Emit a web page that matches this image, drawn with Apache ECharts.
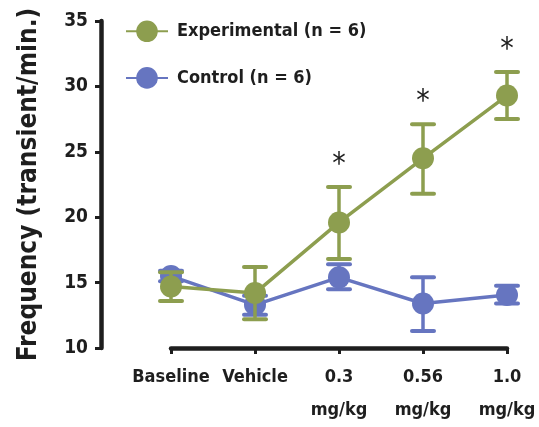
<!DOCTYPE html>
<html>
<head>
<meta charset="utf-8">
<script src="https://cdn.jsdelivr.net/npm/echarts@6/dist/echarts.min.js"></script>
<style>html,body{margin:0;padding:0;background:#fff}#c{width:539px;height:427px}</style>
</head>
<body>
<div id="c"></div>
<script>
const categories = ['Baseline', 'Vehicle', '0.3\nmg/kg', '0.56\nmg/kg', '1.0\nmg/kg'];
const seriesNames = ['Experimental (n = 6)', 'Control (n = 6)'];
const expMean = [14.7, 14.2, 19.6, 24.5, 29.3];
const expLow  = [13.6, 12.2, 16.8, 21.8, 27.5];
const expHigh = [15.8, 16.2, 22.3, 27.1, 31.1];
const ctrlMean = [15.5, 13.3, 15.4, 13.4, 14.05];
const ctrlLow  = [15.1, 12.55, 14.5, 11.3, 13.4];
const ctrlHigh = [15.9, 14.0, 16.4, 15.4, 14.75];
const significant = [false, false, true, true, true];
const yTicks = [10, 15, 20, 25, 30, 35];

const GREEN = '#8D9E4F', BLUE = '#6675C0', INK = '#1e1e1e';
const FONT = '"DejaVu Sans Condensed", "Liberation Sans Narrow", sans-serif';

function errData(low, high, sig) {
  return low.map((l, i) => [i, l, high[i], sig ? (sig[i] ? 1 : 0) : 0]);
}
function errRender(color) {
  return function (params, api) {
    const x = api.value(0);
    const lo = api.coord([x, api.value(1)]);
    const hi = api.coord([x, api.value(2)]);
    const half = 11;
    const style = { stroke: color, lineWidth: 3.5, lineCap: 'butt' };
    const children = [
      { type: 'line', shape: { x1: lo[0], y1: lo[1], x2: hi[0], y2: hi[1] }, style },
      { type: 'line', shape: { x1: lo[0] - half, y1: lo[1], x2: lo[0] + half, y2: lo[1] }, style: { stroke: color, lineWidth: 4, lineCap: 'round' } },
      { type: 'line', shape: { x1: hi[0] - half, y1: hi[1], x2: hi[0] + half, y2: hi[1] }, style: { stroke: color, lineWidth: 4, lineCap: 'round' } }
    ];
    if (api.value(3) === 1) {
      children.push({ type: 'text', style: { text: '*', x: hi[0], y: hi[1] - 22, align: 'center', verticalAlign: 'middle', fill: INK, font: 'normal 30px ' + FONT } });
    }
    return { type: 'group', children };
  };
}

const chart = echarts.init(document.getElementById('c'), null, { renderer: 'canvas' });
chart.setOption({
  animation: false,
  backgroundColor: '#fff',
  grid: { left: 171, right: 32, top: 21, bottom: 71 },
  legend: {
    data: seriesNames,
    orient: 'vertical',
    left: 125, top: 20.5, padding: 0,
    itemWidth: 42, itemHeight: 27, itemGap: 25,
    textStyle: { fontFamily: FONT, fontWeight: 'bold', fontSize: 18, color: INK, padding: [0, 0, 0, 4] }
  },
  xAxis: {
    type: 'category',
    data: categories,
    boundaryGap: false,
    axisLine: { lineStyle: { color: INK, width: 4.5, cap: 'round' } },
    axisTick: { show: true, length: 6, lineStyle: { color: INK, width: 3 } },
    axisLabel: { margin: 13, fontFamily: FONT, fontWeight: 'bold', fontSize: 18, color: INK, lineHeight: 33, interval: 0 }
  },
  yAxis: {
    type: 'value',
    min: yTicks[0], max: yTicks[yTicks.length - 1], interval: 5,
    offset: 70,
    splitLine: { show: false },
    axisLine: { show: true, lineStyle: { color: INK, width: 4.5, cap: 'round' } },
    axisTick: { show: true, length: 6, lineStyle: { color: INK, width: 3 } },
    axisLabel: { margin: 13, fontFamily: FONT, fontWeight: 'bold', fontSize: 19, color: INK },
    name: 'Frequency (transient/min.)',
    nameLocation: 'middle',
    nameGap: 59,
    nameTextStyle: { fontFamily: FONT, fontWeight: 'bold', fontSize: 26, color: INK }
  },
  series: [
    { type: 'custom', name: 'ctrlErr', data: errData(ctrlLow, ctrlHigh, null), renderItem: errRender(BLUE), z: 2, silent: true },
    { type: 'line', name: seriesNames[1], data: ctrlMean, symbol: 'circle', symbolSize: 22, color: BLUE,
      lineStyle: { color: BLUE, width: 3.5 }, itemStyle: { color: BLUE }, z: 3 },
    { type: 'custom', name: 'expErr', data: errData(expLow, expHigh, significant), renderItem: errRender(GREEN), z: 4, silent: true },
    { type: 'line', name: seriesNames[0], data: expMean, symbol: 'circle', symbolSize: 22, color: GREEN,
      lineStyle: { color: GREEN, width: 3.5 }, itemStyle: { color: GREEN }, z: 5 }
  ]
});
</script>
</body>
</html>
